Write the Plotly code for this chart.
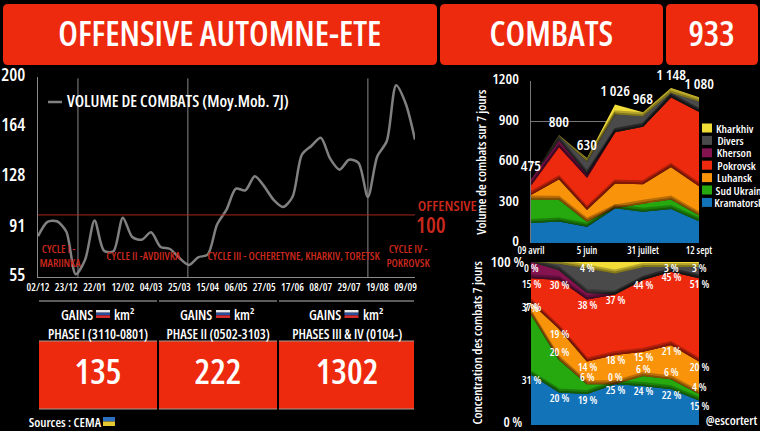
import plotly.graph_objects as go

W, H = 760, 431
FONT = "Open Sans"
WEIGHT = 600
RED = "#ee2a0e"
DARK_RED = "#c9281c"
GREY = "#8a8a8a"

# Combat volume, 7-day moving average, sampled weekly
volume_week = list(range(41))
volume = [84.5, 95, 95.4, 88, 57, 67.6, 96, 74, 73.6, 98, 84, 82, 87.4, 76.8, 75.3, 68.8,
          63.7, 69.3, 71.2, 93, 103.8, 119, 117.8, 128, 120.7, 111, 105.8, 113, 143.7, 150,
          156, 140.8, 132.8, 140, 137.7, 113, 142.5, 153.4, 194, 181, 154.6]
volume_tick_weeks = [0, 3, 6, 9, 12, 15, 18, 21, 24, 27, 30, 33, 36, 39]
volume_tick_labels = ["02/12", "23/12", "22/01", "12/02", "04/03", "25/03", "15/04",
                      "06/05", "27/05", "17/06", "08/07", "29/07", "19/08", "09/09"]
volume_y_ticks = [55, 91, 128, 164, 200]
cycle_breaks = [4.24, 15.9, 35]
offensive_level = 100

# Front-level split of combats
periods = [0, 1, 2, 3, 4, 5, 6]
period_ticks = [0, 2, 4, 6]
period_labels = ["09 avril", "5 juin", "31 juillet", "12 sept"]
totals = [475, 800, 630, 1026, 968, 1148, 1080]
total_labels = ["475", "800", "630", "1 026", "968", "1 148", "1 080"]
kramatorsk = [31, 20, 19, 25, 24, 22, 15]
sud_ukrain = [37, 20, 6, 0, 6, 6, 4]
luhansk = [7, 19, 14, 18, 15, 21, 20]
pokrovsk = [15, 30, 38, 37, 44, 45, 51]
kherson = [10, 6, 4, 0, 0, 0, 0]
divers = [0, 4, 15, 13, 8, 3, 7]
kharkhiv = [0, 1, 4, 7, 3, 3, 3]

gains_titles = ["PHASE I (3110-0801)", "PHASE II (0502-3103)", "PHASES III & IV (0104-)"]
gains_values = [135, 222, 1302]

layers = [
    ("Kramatorsk", kramatorsk, "#1273b8"),
    ("Sud Ukrain", sud_ukrain, "#26a80f"),
    ("Luhansk", luhansk, "#f9930a"),
    ("Pokrovsk", pokrovsk, RED),
    ("Kherson", kherson, "#84134f"),
    ("Divers", divers, "#4a4a4a"),
    ("Kharkhiv", kharkhiv, "#f2dc38"),
]
legend_centers = {"Kharkhiv": 735, "Divers": 730, "Kherson": 734, "Pokrovsk": 736,
                  "Luhansk": 734, "Sud Ukrain": 738, "Kramatorsk": 739}


def px(x):
    return x / W


def py(y):
    return 1 - y / H


def rounded(x0, y0, x1, y1, r=5):
    a, b, c, d = px(x0), py(y0), px(x1), py(y1)
    rx, ry = r / W, r / H
    return (f"M{a + rx},{b} L{c - rx},{b} Q{c},{b} {c},{b - ry} L{c},{d + ry} Q{c},{d} {c - rx},{d} "
            f"L{a + rx},{d} Q{a},{d} {a},{d + ry} L{a},{b - ry} Q{a},{b} {a + rx},{b} Z")


shapes, notes = [], []


def label_font(size, color="white", weight=WEIGHT):
    return dict(family=FONT, size=size, color=color, weight=weight)


def text(x, y, s, size, color="white", angle=0, weight=WEIGHT):
    notes.append(dict(x=px(x), y=py(y), xref="paper", yref="paper", text=s, showarrow=False,
                      xanchor="center", yanchor="middle", textangle=angle, font=label_font(size, color, weight)))


def box(x0, y0, x1, y1, fill):
    shapes.append(dict(type="rect", xref="paper", yref="paper", x0=px(x0), x1=px(x1), y0=py(y1), y1=py(y0),
                       fillcolor=fill, line=dict(width=0)))


def rule(x0, x1, y, color="#7a7a7a", width=1.5):
    shapes.append(dict(type="line", xref="paper", yref="paper", x0=px(x0), x1=px(x1), y0=py(y), y1=py(y),
                       line=dict(color=color, width=width)))


def flag(x, y, colors, w=14, h=8):
    step = h / len(colors)
    for i, c in enumerate(colors):
        box(x, y + i * step, x + w, y + (i + 1) * step, c)


fig = go.Figure()

# Volume line
fig.add_trace(go.Scatter(x=volume_week, y=volume, mode="lines", xaxis="x", yaxis="y", showlegend=False,
                         line=dict(color="#808080", width=2.5, shape="spline", smoothing=0.8)))

# Stacked areas, absolute and in percent, with a soft shadow along each band's lower edge
for axis_x, axis_y, absolute in (("x2", "y2", True), ("x3", "y3", False)):
    running = [0.0] * 7
    edges = []
    for name, shares, fill in layers:
        values = [s * t / 100 if absolute else s for s, t in zip(shares, totals)]
        edges.append(list(running))
        fig.add_trace(go.Scatter(x=periods, y=values, mode="lines", stackgroup=axis_y, name=name, xaxis=axis_x,
                                 yaxis=axis_y, fillcolor=fill, line=dict(width=0, color=fill), showlegend=False))
        running = [r + v for r, v in zip(running, values)]
    unit = 7.4 if absolute else 0.61
    for base in edges[1:]:
        for lift_px, width, alpha in ((1, 2, 0.45), (3, 2, 0.25)):
            fig.add_trace(go.Scatter(x=periods, y=[b + lift_px * unit for b in base], mode="lines", xaxis=axis_x,
                                     yaxis=axis_y, showlegend=False,
                                     line=dict(color=f"rgba(0,0,0,{alpha})", width=width)))

# Header bars
for (x0, x1), label, center in zip([(3, 437), (440, 663), (666, 758)],
                                   ["OFFENSIVE AUTOMNE-ETE", "COMBATS", "933"], [220, 551, 711]):
    shapes.append(dict(type="path", path=rounded(x0, 4, x1, 65), xref="paper", yref="paper",
                       fillcolor=RED, line=dict(width=0)))
    text(center, 33, label, 34.5)

# Volume chart furniture
for b in cycle_breaks:
    shapes.append(dict(type="line", xref="x", yref="y", x0=b, x1=b, y0=55, y1=199,
                       line=dict(color="#8a8a8a", width=1)))
shapes.append(dict(type="line", xref="x", yref="y", x0=0, x1=40, y0=offensive_level, y1=offensive_level,
                   line=dict(color="#a5261c", width=1)))
rule(48, 62, 102, "#808080", 2.5)
text(178, 100, "VOLUME DE COMBATS (Moy.Mob. 7J)", 16.5)
text(447, 205, "OFFENSIVE", 15, DARK_RED)
text(431, 224, "100", 22, DARK_RED)
text(59, 248, "CYCLE I -", 11, DARK_RED)
text(60, 262, "MARIINKA", 11, DARK_RED)
text(143, 255, "CYCLE II -AVDIIVKA", 11, DARK_RED)
text(294, 255, "CYCLE III - OCHERETYNE, KHARKIV, TORETSK", 11, DARK_RED)
text(408, 248, "CYCLE IV -", 11, DARK_RED)
text(408, 262, "POKROVSK", 11, DARK_RED)

# Gains tables
for (x0, x1), title, value in zip([(39, 157), (159, 277), (279, 414)], gains_titles, gains_values):
    mid = (x0 + x1) / 2
    rule(x0, x1, 301)
    text(mid - 21, 314, "GAINS", 14)
    flag(mid - 2, 310, ["#e8e8e8", "#2a4fa0", "#d62b2b"])
    text(mid + 26, 314, "km²", 14)
    text(mid, 334, title, 13.5)
    box(x0, 341, x1, 409, RED)
    rule(x0, x1, 341, "#a09a94", 1)
    rule(x0, x1, 409, "#a09a94", 1)
    text(mid, 370, str(value), 35)
text(65, 422, "Sources : CEMA", 13)
flag(103, 417, ["#2f6fc0", "#e8c92f"], w=12, h=9)

# Legend of the stacked charts
for i, (name, _, fill) in enumerate(reversed(layers)):
    y = 128 + i * 12.4
    box(702, y - 4.5, 712, y + 4.5, fill)
    text(legend_centers[name], y, name, 11.5)

# Stacked chart captions
text(481, 162, "Volume de combats sur 7 jours", 13, angle=-90)
text(477, 343, "Concentration des combats 7 jours", 13, angle=-90)
text(731, 420, "@escortert", 13)
text(507, 261, "100 %", 15)
text(513, 421, "0 %", 14)

# Totals above the absolute stack
for p, t, label in zip(periods, totals, total_labels):
    notes.append(dict(x=p, y=t, xref="x2", yref="y2", text=label, showarrow=False, yshift=14, font=label_font(15)))


# Percent labels sitting on the band edges
def pct_labels(series, base, shift):
    for p, s, b in zip(periods, series, base):
        notes.append(dict(x=p, y=b + s, xref="x3", yref="y3", text=f"{s} %", showarrow=False, yshift=shift,
                          font=label_font(11)))


level0 = [0] * 7
level1 = kramatorsk
level2 = [a + b for a, b in zip(level1, sud_ukrain)]
level3 = [a + b for a, b in zip(level2, luhansk)]
pct_labels(kramatorsk, level0, -5)
pct_labels(sud_ukrain, level1, 8)
pct_labels(luhansk, level2, -5)
pct_labels(pokrovsk, level3, -5)
for p in (0, 2, 5, 6):
    notes.append(dict(x=p, y=100, xref="x3", yref="y3", text=f"{kharkhiv[p]} %", showarrow=False, yshift=-5,
                      font=label_font(11)))

fig.update_layout(
    template="none",
    width=W, height=H, margin=dict(l=0, r=0, t=0, b=0, pad=0), paper_bgcolor="black", plot_bgcolor="black",
    showlegend=False, shapes=shapes, annotations=notes,
    xaxis=dict(domain=[px(38), px(415)], range=[0, 40], tickvals=volume_tick_weeks, ticktext=volume_tick_labels,
               showgrid=False, zeroline=False, ticks="", tickangle=0, showline=True, linecolor=GREY,
               automargin=False, tickfont=label_font(10.5), anchor="y"),
    yaxis=dict(domain=[py(277), py(77)], range=[55, 200], tickvals=volume_y_ticks, showgrid=False, zeroline=False,
               ticks="", showline=True, linecolor=GREY, automargin=False, ticklabelstandoff=8, ticklabelshift=-2,
               tickfont=label_font(18), anchor="x"),
    xaxis2=dict(domain=[px(531), px(699)], range=[0, 6], tickvals=period_ticks, ticktext=period_labels,
                showgrid=False, zeroline=False, ticks="", tickangle=0, automargin=False,
                tickfont=label_font(10), anchor="y2"),
    yaxis2=dict(domain=[py(243), py(81)], range=[0, 1200], tickvals=[0, 300, 600, 900, 1200], showgrid=True,
                gridcolor="#777", zeroline=False, ticks="", showline=True, linecolor="#777", automargin=False,
                ticklabelstandoff=8, ticklabelshift=-2, tickfont=label_font(15), anchor="x2"),
    xaxis3=dict(domain=[px(531), px(699)], range=[0, 6], showticklabels=False, showgrid=False, zeroline=False,
                ticks="", automargin=False, anchor="y3"),
    yaxis3=dict(domain=[py(425), py(262)], range=[0, 100], showticklabels=False, showgrid=False, zeroline=False,
                ticks="", automargin=False, anchor="x3"),
)

# Condensed cut of the variable font for every label
fig.write_html("out.html", post_script="""
var s=document.createElement('style');s.textContent='svg text{font-stretch:75%}';document.head.appendChild(s);
""")
